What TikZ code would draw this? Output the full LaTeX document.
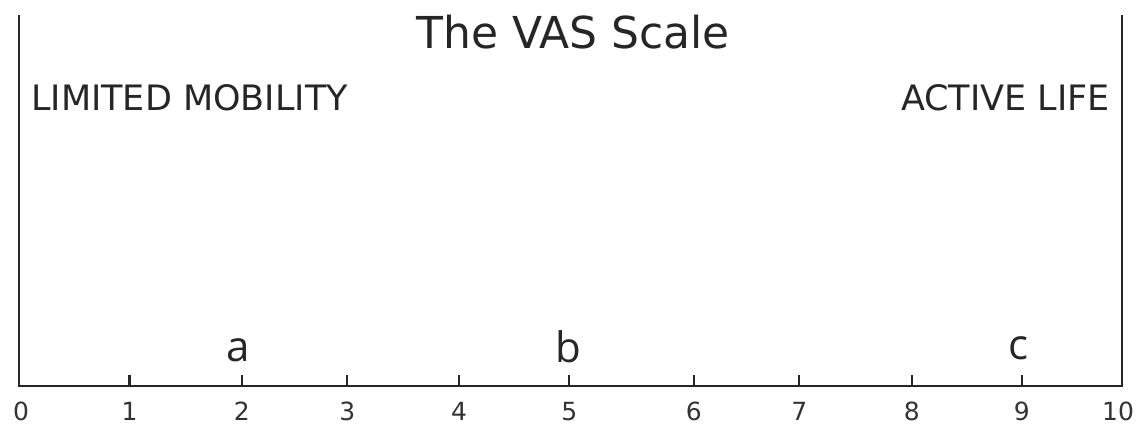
\documentclass[tikz,border=0pt]{standalone}
\usepackage{fontspec}
\setmainfont{DejaVu Sans}
\newfontfamily\letterfont{Open Sans}
\begin{document}
\begin{tikzpicture}[x=1pt,y=-1pt,
  axisline/.style={line width=2.8pt,black!85},
  tickline/.style={line width=2.2pt,black!85},
  ticklabel/.style={inner sep=0pt,anchor=base,font=\fontsize{25}{25}\selectfont,text=black!80},
  pointlabel/.style={inner sep=0pt,anchor=base,font=\letterfont\fontsize{42}{42}\selectfont,text=black!85},
  endlabel/.style={inner sep=0pt,anchor=base,font=\fontsize{35}{35}\selectfont,text=black!85}]
\useasboundingbox (0,0) rectangle (1139,424);
% frame
\coordinate (lt) at (19,15);
\coordinate (lb) at (19,386);
\coordinate (rb) at (1122,386);
\coordinate (rt) at (1122,15);
\draw[axisline] (lt) -- (lb) -- (rb) -- (rt);
% ticks
\foreach \n/\x in {1/129.5,2/241.7,3/347.3,4/459,5/569.3,6/693.7,7/799.3,8/911.7,9/1021.7}{
  \coordinate (t\n) at (\x,386);
  \coordinate (u\n) at (\x,375);
  \draw[tickline] (t\n) -- (u\n);
  \node[ticklabel] (n\n) at (\x,420) {\n};
}
\node[ticklabel] (n0) at (21,420) {0};
\node[ticklabel] (n10) at (1118,420) {10};
% point labels
\node[pointlabel] (a) at (238,361) {a};
\node[pointlabel] (b) at (568,362) {b};
\node[pointlabel] (c) at (1018,359) {c};
% end labels
\node[endlabel,anchor=base west] (lim) at (31,110) {LIMITED MOBILITY};
\node[endlabel,anchor=base east] (act) at (1110,110) {ACTIVE LIFE};
% title
\node[inner sep=0pt,anchor=base,font=\fontsize{44}{44}\selectfont,text=black!85] (title) at (573,48) {The VAS Scale};
\end{tikzpicture}
\end{document}
